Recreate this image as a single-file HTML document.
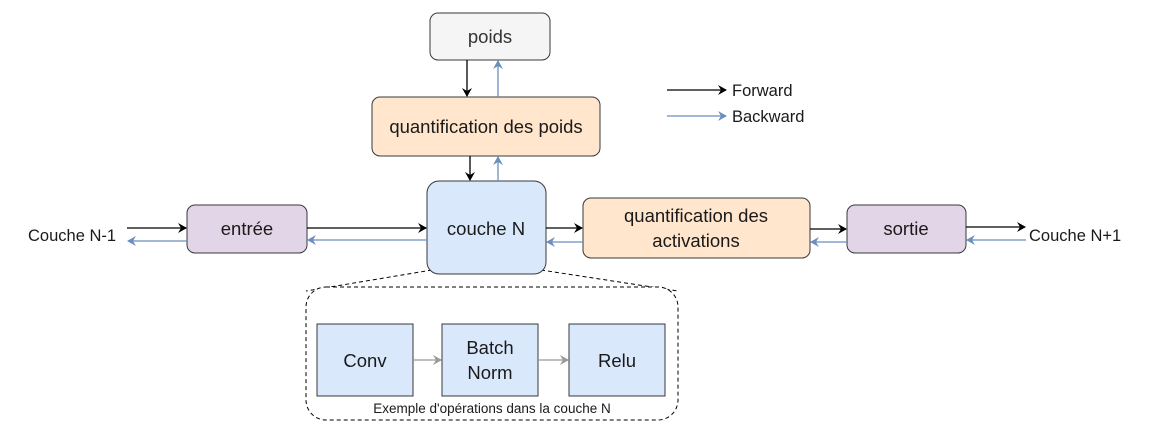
<!DOCTYPE html>
<html><head><meta charset="utf-8"><style>
html,body{margin:0;padding:0;background:#fff;}
svg text{font-family:"Liberation Sans",Arial,sans-serif;}
</style></head><body>
<svg width="1172" height="440" viewBox="0 0 1172 440" xmlns="http://www.w3.org/2000/svg">
<defs>
<marker id="ak" markerWidth="10" markerHeight="10" refX="8" refY="5" orient="auto" markerUnits="userSpaceOnUse"><path d="M0,0 L9,5 L0,10 L3,5 z" fill="#000"/></marker>
<marker id="ab" markerWidth="10" markerHeight="10" refX="8" refY="5" orient="auto" markerUnits="userSpaceOnUse"><path d="M0,0 L9,5 L0,10 L3,5 z" fill="#6c8ebf"/></marker>
<marker id="ag" markerWidth="10" markerHeight="10" refX="8" refY="5" orient="auto" markerUnits="userSpaceOnUse"><path d="M0,0 L9,5 L0,10 L3,5 z" fill="#999"/></marker>
</defs>
<g stroke-width="1.3" fill="none">
<line x1="432" y1="270" x2="306" y2="291" stroke="#000" stroke-dasharray="4 3" stroke-width="1"/>
<line x1="541" y1="270" x2="678" y2="291" stroke="#000" stroke-dasharray="4 3" stroke-width="1"/>
<rect x="306" y="287" width="372" height="133" rx="20" fill="#fff" stroke="#000" stroke-dasharray="4 3" stroke-width="1"/>
</g>
<g stroke="#36393d" stroke-width="1">
<rect x="430" y="13" width="120" height="47" rx="8" fill="#f5f5f5"/>
<rect x="372" y="97" width="228" height="59" rx="8" fill="#ffe6cc"/>
<rect x="427" y="181" width="119" height="93" rx="12" fill="#dae8fc"/>
<rect x="187" y="205" width="120" height="48" rx="8" fill="#e1d5e7"/>
<rect x="583" y="198" width="227" height="60" rx="8" fill="#ffe6cc"/>
<rect x="847" y="205" width="119" height="48" rx="8" fill="#e1d5e7"/>
<rect x="317" y="324" width="96" height="72" fill="#dae8fc"/>
<rect x="442" y="324" width="96" height="72" fill="#dae8fc"/>
<rect x="569" y="324" width="96" height="72" fill="#dae8fc"/>
</g>
<g stroke-width="1.3">
<line x1="467" y1="60" x2="467" y2="96" stroke="#000" marker-end="url(#ak)"/>
<line x1="498" y1="97" x2="498" y2="61" stroke="#6c8ebf" marker-end="url(#ab)"/>
<line x1="470" y1="156" x2="470" y2="180" stroke="#000" marker-end="url(#ak)"/>
<line x1="498" y1="181" x2="498" y2="157" stroke="#6c8ebf" marker-end="url(#ab)"/>
<line x1="127" y1="228" x2="186" y2="228" stroke="#000" marker-end="url(#ak)"/>
<line x1="187" y1="241" x2="128" y2="241" stroke="#6c8ebf" marker-end="url(#ab)"/>
<line x1="307" y1="228" x2="426" y2="228" stroke="#000" marker-end="url(#ak)"/>
<line x1="427" y1="240" x2="308" y2="240" stroke="#6c8ebf" marker-end="url(#ab)"/>
<line x1="546" y1="228" x2="582" y2="228" stroke="#000" marker-end="url(#ak)"/>
<line x1="583" y1="242" x2="547" y2="242" stroke="#6c8ebf" marker-end="url(#ab)"/>
<line x1="810" y1="229" x2="846" y2="229" stroke="#000" marker-end="url(#ak)"/>
<line x1="847" y1="242" x2="811" y2="242" stroke="#6c8ebf" marker-end="url(#ab)"/>
<line x1="966" y1="227" x2="1025" y2="227" stroke="#000" marker-end="url(#ak)"/>
<line x1="1026" y1="240" x2="967" y2="240" stroke="#6c8ebf" marker-end="url(#ab)"/>
<line x1="667" y1="90" x2="726" y2="90" stroke="#000" marker-end="url(#ak)"/>
<line x1="667" y1="116" x2="726" y2="116" stroke="#6c8ebf" marker-end="url(#ab)"/>
<line x1="413" y1="360" x2="441" y2="360" stroke="#999" marker-end="url(#ag)"/>
<line x1="538" y1="360" x2="568" y2="360" stroke="#999" marker-end="url(#ag)"/>
</g>
<g font-size="18.5" fill="#1a1a1a" text-anchor="middle">
<text x="490" y="43" fill="#333">poids</text>
<text x="486" y="133">quantification des poids</text>
<text x="486" y="235">couche N</text>
<text x="247" y="235">entrée</text>
<text x="696" y="222">quantification des</text>
<text x="696" y="247">activations</text>
<text x="906" y="235">sortie</text>
<text x="365" y="367">Conv</text>
<text x="490" y="354">Batch</text>
<text x="490" y="379">Norm</text>
<text x="617" y="367">Relu</text>
</g>
<g font-size="16.5" fill="#1a1a1a">
<text x="28" y="241">Couche N-1</text>
<text x="1029" y="241">Couche N+1</text>
<text x="732" y="96">Forward</text>
<text x="732" y="122">Backward</text>
</g>
<text x="492" y="413" font-size="13.5" fill="#1a1a1a" text-anchor="middle">Exemple d'opérations dans la couche N</text>
</svg>
</body></html>
